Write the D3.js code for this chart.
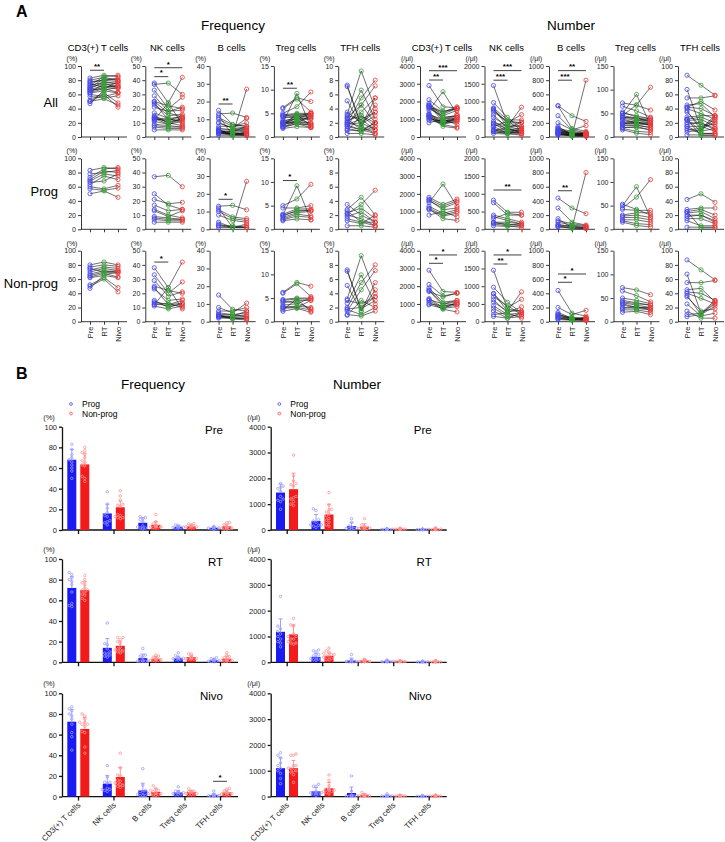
<!DOCTYPE html>
<html><head><meta charset="utf-8">
<script src="https://cdn.jsdelivr.net/npm/d3@7"></script>
<style>body{margin:0;background:#fff} svg{font-family:"Liberation Sans",Arial,Helvetica,sans-serif}</style>
</head><body><svg id="c" width="725" height="842"></svg>
<script>
// ---------------- DATA ----------------
const timepoints = ["Pre","RT","Nivo"];
const cellTypes = ["CD3(+) T cells","NK cells","B cells","Treg cells","TFH cells"];
const rowGroups = ["All","Prog","Non-prog"];
const freqMax = [100,50,40,15,10];
const freqStep = [20,10,10,5,2];
const numMax = [4000,2000,1000,150,100];
const numStep = [1000,500,200,50,20];

// per patient [Pre, RT, Nivo]  (frequency, %)
const progFreqCD3 = [[83,87,85],[78,80,83],[73,85,87],[70,82,80],[68,78,75],[66,68,78],[63,75,70],[60,57,62],[57,55,58],[50,54,45]];
const npFreqCD3 = [[80,84,80],[77,80,78],[73,77,75],[70,75,72],[67,72,70],[65,70,68],[63,68,63],[62,65,62],[52,62,48],[50,60,42],[47,66,70],[75,70,72]];
const progFreqNK = [[37,38,30],[25,17,14],[21,18,19],[17,13,14],[14,10,8],[13,9,13],[9,8,7],[8,7,7],[7,6,6],[5,5,5]];
const npFreqNK = [[38,24,42],[33,20,28],[29,18,21],[25,22,20],[23,15,16],[24,12,15],[15,10,13],[13,11,12],[12,13,10],[11,9,11],[12,24,9],[14,12,13]];
const progFreqB = [[13,13.5,11],[12,1,27],[11,7,6],[10,6,5],[8,5,4],[4,1,3],[3,1,2],[2,1,1],[2,2,1],[1,1,1]];
const npFreqB = [[15,7,6],[8,5,10.5],[6,6,8],[4,4,5],[3.5,3,4],[3,2.5,3],[3,2,2],[2.5,2,1.5],[4,1.5,1],[3,3,6],[2,2,2],[5,4,3]];
const progFreqTreg = [[3,9.2,2],[5,6.4,9.5],[4.5,4.5,5],[3.2,4.3,4.3],[2.8,4,4],[2.5,3.5,3.8],[2.2,3.2,2.8],[2,2.8,2.5],[1.8,2.2,2],[3,3.8,4]];
const npFreqTreg = [[6.2,8.3,7.5],[6,8,5.3],[4.7,5,5],[4.5,4.8,4.8],[4,4.5,4.5],[3.5,3.8,5],[3,3.3,3],[2.8,3,2.5],[2.5,4.8,2.2],[2.2,2.8,2],[3.2,3,4.5],[4.3,4,2.8]];
const progFreqTFH = [[3.5,2,1],[2.8,4.5,2],[2.6,1,1],[2.3,3,1.5],[2,1.5,0.5],[1.8,2.5,1],[1.5,1,0.5],[1.2,0.8,2],[0.5,0.5,0.3],[2.2,3.5,5.5]];
const npFreqTFH = [[7.3,1.5,5.5],[7.1,1.8,3],[5.1,1.5,4.5],[3.2,9.3,4],[2.6,6.6,2.5],[1.8,2,3.5],[1.7,1,2],[1,0.8,1.5],[0.9,3,2],[2,5.5,8],[1.5,4.5,7.2],[3,2.5,3.5]];

// per patient [Pre, RT, Nivo]  (number, /μl)
const progNumCD3 = [[1500,2550,1300],[1800,1400,1700],[1700,1300,1600],[1600,1200,1500],[1300,900,1100],[1200,800,1000],[1100,750,900],[800,1000,700],[1650,1100,1200],[1150,600,500]];
const npNumCD3 = [[2900,1700,1650],[2100,1450,1600],[1900,1100,1200],[1800,1000,1100],[1750,900,1000],[1300,800,950],[1200,750,850],[1100,700,550],[1000,900,1000],[950,750,1100],[1250,1000,1200],[1700,1400,1600]];
const progNumNK = [[820,480,480],[750,400,400],[400,300,200],[350,250,150],[200,200,150],[180,150,100],[150,100,50],[100,80,100],[300,450,400],[200,120,150]];
const npNumNK = [[1450,350,300],[970,550,250],[800,300,840],[780,400,630],[620,250,420],[450,200,250],[380,150,200],[300,100,150],[200,250,100],[150,100,250],[550,300,300],[700,450,200]];
const progNumB = [[440,300,220],[300,100,60],[150,20,800],[120,80,50],[70,30,30],[60,50,20],[50,10,10],[40,30,20],[100,60,40],[30,20,10]];
const npNumB = [[440,120,80],[200,100,160],[130,50,60],[100,40,50],[80,30,30],[60,20,20],[50,30,60],[30,20,50],[90,60,40],[110,40,20],[70,50,30],[40,30,20]];
const progNumTreg = [[53,42,30],[50,90,25],[45,68,105],[42,40,40],[30,35,35],[25,25,20],[20,20,15],[18,12,10],[15,8,5],[28,30,25]];
const npNumTreg = [[72,67,57],[65,55,42],[50,45,38],[45,40,35],[40,35,30],[38,30,28],[30,28,25],[25,25,20],[20,22,15],[42,38,35],[35,30,30],[28,32,25]];
const progNumTFH = [[42,50,38],[28,30,30],[25,28,20],[23,25,15],[20,20,10],[15,15,8],[12,5,5],[3,3,3],[25,2,2],[18,20,12]];
const npNumTFH = [[87,73,59],[67,12,30],[55,55,58],[45,47,28],[40,33,25],[37,10,22],[35,15,18],[25,8,12],[15,5,5],[10,12,25],[7,10,28],[42,40,30]];

// Panel B bar means / SD, rows = Pre, RT, Nivo; columns = cell types
const meanFreqProg = [[68,16,7,3,2],[72,14,4,4,2],[72.5,12.5,6,4,1.5]];
const meanFreqNonprog = [[63.5,22,5,3.5,3.5],[70,16,3.5,5,3.5],[65.5,19,4.5,4.5,4]];
const sdFreqProg = [[10,9,5,1.2,0.9],[11,9,4,2,1.2],[12,8,7,2,1.6]];
const sdFreqNonprog = [[11,6,3,1.3,2.2],[8,4.5,2,1.8,2.5],[11,9,3,1.5,2.3]];
const meanNumProg = [[1450,350,150,30,25],[1180,210,70,35,20],[1100,200,140,30,20]];
const meanNumNonprog = [[1580,600,130,40,35],[1080,250,70,35,25],[1100,320,70,30,30]];
const sdNumProg = [[330,250,130,12,12],[500,130,90,25,15],[400,150,230,28,12]];
const sdNumNonprog = [[620,400,110,15,25],[370,110,40,14,20],[300,230,50,12,15]];

// significance annotations: measure, row, cell, from, to, level (data units), label
const sigA = [
  ["freq",0,0,"Pre","RT",94,"**"],
  ["freq",0,1,"Pre","RT",42.5,"*"],
  ["freq",0,1,"Pre","Nivo",48.8,"*"],
  ["freq",0,2,"Pre","RT",18.6,"**"],
  ["freq",0,3,"Pre","RT",10.3,"**"],
  ["freq",1,2,"Pre","RT",16.9,"*"],
  ["freq",1,3,"Pre","RT",10.3,"*"],
  ["freq",2,1,"Pre","RT",42,"*"],
  ["num",0,0,"Pre","RT",3210,"**"],
  ["num",0,0,"Pre","Nivo",3735,"***"],
  ["num",0,1,"Pre","RT",1600,"***"],
  ["num",0,1,"Pre","Nivo",1870,"***"],
  ["num",0,2,"Pre","RT",800,"***"],
  ["num",0,2,"Pre","Nivo",935,"**"],
  ["num",1,1,"Pre","Nivo",1107,"**"],
  ["num",1,2,"Pre","RT",543,"**"],
  ["num",2,0,"Pre","RT",3290,"*"],
  ["num",2,0,"Pre","Nivo",3760,"*"],
  ["num",2,1,"Pre","RT",1625,"**"],
  ["num",2,1,"Pre","Nivo",1880,"*"],
  ["num",2,2,"Pre","RT",555,"*"],
  ["num",2,2,"Pre","Nivo",672,"*"]
];
const sigB = [["freq","Nivo","TFH cells",14.8,"*"]];

// ---------------- DRAW ----------------
const progFreq = [progFreqCD3,progFreqNK,progFreqB,progFreqTreg,progFreqTFH];
const npFreq = [npFreqCD3,npFreqNK,npFreqB,npFreqTreg,npFreqTFH];
const progNum = [progNumCD3,progNumNK,progNumB,progNumTreg,progNumTFH];
const npNum = [npNumCD3,npNumNK,npNumB,npNumTreg,npNumTFH];

const svg = d3.select("#c");
const tpColor = {Pre:"#4646f0", RT:"#35a035", Nivo:"#ec3a3a"};
const BLUE = "#1a1af2", RED = "#f21a1a";
const fmt = d3.format("d");

function txt(x,y,s,size,anchor,weight){
  return svg.append("text").attr("x",x).attr("y",y).text(s)
    .style("font-size",size+"px").attr("text-anchor",anchor||"start")
    .style("font-weight",weight||"normal").attr("fill","#000");
}

// Panel A headings
txt(16,17,"A",16,"start","bold");
txt(233,30,"Frequency",13.5,"middle");
txt(571,30,"Number",13.5,"middle");
const rowTopsA = [66,158.3,250.7];
const rowLabelY = [107,196,288];
rowGroups.forEach((g,i)=>txt(58,rowLabelY[i],g,13,"end"));

const scalesA = {};
function drawA(measure,col,row){
  const axisX = measure==="freq" ? 81 + col*64.3 : 420 + col*64.5;
  const top = rowTopsA[row], bottom = top + 71;
  const max = measure==="freq" ? freqMax[col] : numMax[col];
  const step = measure==="freq" ? freqStep[col] : numStep[col];
  const y = d3.scaleLinear().domain([0,max]).range([bottom,top]);
  const x = d3.scalePoint().domain(timepoints).range([axisX+9, axisX+37]);
  scalesA[measure+row+"_"+col] = {x,y};
  const g = svg.append("g");
  const ya = g.append("g").attr("transform",`translate(${axisX},0)`)
    .call(d3.axisLeft(y).tickValues(d3.range(0,max+step/2,step)).tickFormat(fmt).tickSize(3).tickSizeOuter(0).tickPadding(2));
  ya.selectAll("text").style("font-size","7px").attr("fill","#222");
  ya.selectAll("line,path").attr("stroke","#222").attr("stroke-width",0.9);
  g.append("line").attr("x1",axisX).attr("x2",axisX+46).attr("y1",bottom).attr("y2",bottom)
    .attr("stroke","#222").attr("stroke-width",0.9);
  const xa = g.append("g").attr("transform",`translate(0,${bottom})`)
    .call(d3.axisBottom(x).tickSize(3).tickSizeOuter(0));
  xa.select(".domain").remove();
  xa.selectAll("line").attr("stroke","#222").attr("stroke-width",0.9);
  if(row===2){
    xa.selectAll("text").attr("transform","rotate(-90)").attr("x",-5).attr("y",0)
      .attr("dy","0.35em").attr("text-anchor","end").style("font-size","7.5px").attr("fill","#222");
  } else xa.selectAll("text").remove();
  // unit label
  g.append("text").attr("x",axisX-(measure==="freq"?9:13)).attr("y",top-5)
    .attr("text-anchor","middle").style("font-size","7px").attr("fill","#222")
    .text(measure==="freq"?"(%)":"(/μl)");
  if(row===0){
    const off = (measure==="freq" && col===0) ? 17 : 22;
    txt(axisX+off,51,cellTypes[col],9.5,"middle");
  }
  const P = measure==="freq" ? progFreq[col] : progNum[col];
  const N = measure==="freq" ? npFreq[col] : npNum[col];
  const data = row===0 ? P.concat(N) : (row===1 ? P : N);
  const line = d3.line().x((d,i)=>x(timepoints[i])).y(d=>y(d));
  g.selectAll("path.pl").data(data).join("path").attr("class","pl")
    .attr("d",line).attr("fill","none").attr("stroke","#111").attr("stroke-width",0.6);
  data.forEach(p=>{
    p.forEach((v,i)=>{
      g.append("circle").attr("cx",x(timepoints[i])).attr("cy",y(v)).attr("r",2.1)
        .attr("fill","none").attr("stroke",tpColor[timepoints[i]]).attr("stroke-width",0.8);
    });
  });
}
["freq","num"].forEach(m=>{
  for(let r=0;r<3;r++) for(let c=0;c<5;c++) drawA(m,c,r);
});
sigA.forEach(([m,r,c,a,b,v,s])=>{
  const {x,y} = scalesA[m+r+"_"+c];
  const yy = y(v);
  svg.append("line").attr("x1",x(a)).attr("x2",x(b)).attr("y1",yy).attr("y2",yy)
    .attr("stroke","#111").attr("stroke-width",0.8);
  txt((x(a)+x(b))/2, yy-1.2, s, 8, "middle","bold");
});

// Panel B
txt(16,379,"B",16,"start","bold");
txt(153,389,"Frequency",13.5,"middle");
txt(357,389,"Number",13.5,"middle");
const rowTopsB = [426.7,559,693.3];
const scalesB = {};
function swarm(ys, gap){
  // simple beeswarm offsets for sorted pixel positions
  const placed = [], offs = [];
  const cands = [0,-gap,gap,-2*gap,2*gap];
  ys.forEach(yv=>{
    let o = 0;
    for(const c of cands){
      if(placed.every(p=>Math.hypot(p[0]-c,p[1]-yv) >= gap)){ o = c; break; }
    }
    placed.push([o,yv]); offs.push(o);
  });
  return offs;
}
function drawB(measure,row){
  const axisX = measure==="freq" ? 62 : 270.7;
  const top = rowTopsB[row], bottom = top + 103.3;
  const max = measure==="freq" ? 100 : 4000, step = measure==="freq" ? 20 : 1000;
  const y = d3.scaleLinear().domain([0,max]).range([bottom,top]);
  const x = d3.scalePoint().domain(cellTypes).range([axisX+16, axisX+158]);
  scalesB[measure+timepoints[row]] = {x,y};
  const g = svg.append("g");
  const ya = g.append("g").attr("transform",`translate(${axisX},0)`)
    .call(d3.axisLeft(y).tickValues(d3.range(0,max+1,step)).tickFormat(fmt).tickSize(3).tickSizeOuter(0).tickPadding(2));
  ya.selectAll("text").style("font-size","7.5px").attr("fill","#222");
  ya.selectAll("line,path").attr("stroke","#111").attr("stroke-width",1.3);
  g.append("line").attr("x1",axisX).attr("x2",axisX+176).attr("y1",bottom).attr("y2",bottom)
    .attr("stroke","#111").attr("stroke-width",1.3);
  g.append("text").attr("x",axisX-(measure==="freq"?13:17)).attr("y",top-7)
    .attr("text-anchor","middle").style("font-size","7.5px").attr("fill","#222")
    .text(measure==="freq"?"(%)":"(/μl)");
  txt(axisX+161, top+7, timepoints[row], 11.5, "end");
  const mP = measure==="freq" ? meanFreqProg[row] : meanNumProg[row];
  const mN = measure==="freq" ? meanFreqNonprog[row] : meanNumNonprog[row];
  const sP = measure==="freq" ? sdFreqProg[row] : sdNumProg[row];
  const sN = measure==="freq" ? sdFreqNonprog[row] : sdNumNonprog[row];
  const PP = measure==="freq" ? progFreq : progNum;
  const NN = measure==="freq" ? npFreq : npNum;
  cellTypes.forEach((ct,i)=>{
    const cx = x(ct);
    [[mP,sP,PP,BLUE,"#9c9cff","#8a8aff",cx-10.7],[mN,sN,NN,RED,"#ff9494","#ff7d7d",cx+2.3]].forEach(([m,s,src,col,pc,ec,bx])=>{
      const bc = bx+4.5;
      g.append("line").attr("x1",bc).attr("x2",bc).attr("y1",y(m[i])).attr("y2",y(m[i]+s[i]))
        .attr("stroke",ec).attr("stroke-width",0.8);
      g.append("line").attr("x1",bc-2).attr("x2",bc+2).attr("y1",y(m[i]+s[i])).attr("y2",y(m[i]+s[i]))
        .attr("stroke",ec).attr("stroke-width",0.8);
      g.append("rect").attr("x",bx).attr("y",y(m[i])).attr("width",9).attr("height",bottom-y(m[i]))
        .attr("fill",col);
      const vals = src[i].map(p=>p[row]).slice().sort((a,b)=>a-b);
      const ys = vals.map(v=>y(v));
      const offs = swarm(ys, 2.6);
      ys.forEach((yv,k)=>{
        g.append("circle").attr("cx",bc+offs[k]).attr("cy",yv).attr("r",1.25)
          .attr("fill","none").attr("stroke",pc).attr("stroke-width",0.8);
      });
    });
  });
  const xa = g.append("g").attr("transform",`translate(0,${bottom})`)
    .call(d3.axisBottom(x).tickSize(4).tickSizeOuter(0));
  xa.select(".domain").remove();
  xa.selectAll("line").attr("stroke","#111").attr("stroke-width",1.3);
  xa.selectAll("text").remove();
  if(row===2){
    cellTypes.forEach(ct=>{
      g.append("text").attr("transform",`translate(${x(ct)+3},${bottom+9}) rotate(-45)`)
        .attr("text-anchor","end").style("font-size","8px").attr("fill","#222").text(ct);
    });
  }
  if(row===0){
    const lx = measure==="freq" ? 71 : 279.3;
    g.append("circle").attr("cx",lx).attr("cy",404).attr("r",1.4).attr("fill","none").attr("stroke","#5a5aff").attr("stroke-width",0.9);
    g.append("circle").attr("cx",lx).attr("cy",413.5).attr("r",1.4).attr("fill","none").attr("stroke","#ff5a5a").attr("stroke-width",0.9);
    txt(lx+11,407,"Prog",8.5,"start");
    txt(lx+11,416.5,"Non-prog",8.5,"start");
  }
}
["freq","num"].forEach(m=>{for(let r=0;r<3;r++) drawB(m,r);});
sigB.forEach(([m,tp,ct,v,s])=>{
  const {x,y} = scalesB[m+tp];
  const yy = y(v);
  svg.append("line").attr("x1",x(ct)-7).attr("x2",x(ct)+7).attr("y1",yy).attr("y2",yy)
    .attr("stroke","#111").attr("stroke-width",0.8);
  txt(x(ct), yy-1.5, s, 8, "middle","bold");
});
</script></body></html>
